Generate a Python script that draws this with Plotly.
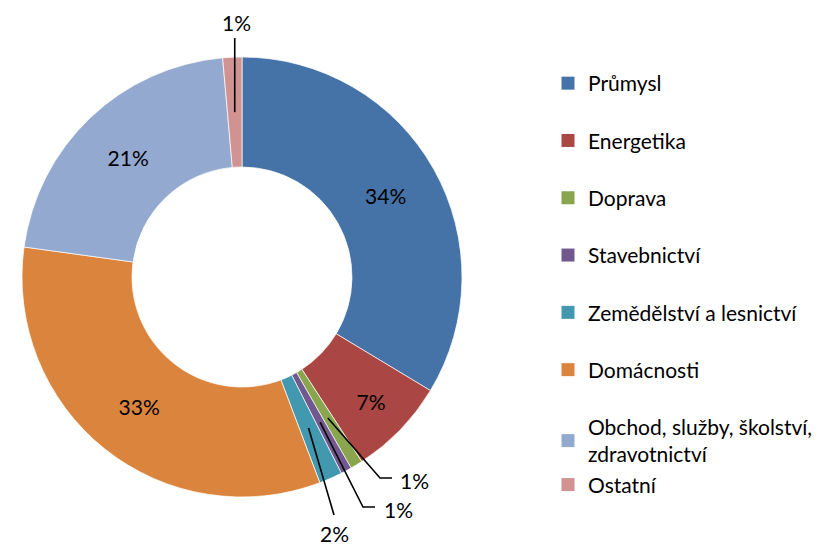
import math
import plotly.graph_objects as go

# data
sectors = ["Průmysl", "Energetika", "Doprava", "Stavebnictví",
           "Zemědělství a lesnictví", "Domácnosti",
           "Obchod, služby, školství,<br>zdravotnictví", "Ostatní"]
shares = [33.6, 7.2, 0.9, 0.8, 1.7, 32.9, 21.4, 1.4]
colors = ["#4572A7", "#AA4643", "#89A54E", "#71588F",
          "#4198AF", "#DB843D", "#93A9CF", "#D19392"]
inside_label = [True, True, False, False, False, True, True, False]

W, H = 828, 546
OFF = 8  # page body margin
CX, CY, R = 242, 277, 220
FONT = "Lato"
FS = 21


def paper(x, y):
    # page pixel -> paper coords
    return (x - OFF) / W, 1 - (y - OFF) / H


fig = go.Figure()

x0, y1 = paper(CX - R, CY - R)
x1, y0 = paper(CX + R, CY + R)
fig.add_trace(go.Pie(
    labels=sectors, values=shares, sort=False, direction="clockwise",
    rotation=0, hole=0.5, showlegend=False,
    marker=dict(colors=colors, line=dict(color="white", width=0.7)),
    texttemplate="%{percent:.0%}",
    textposition=["inside" if s else "none" for s in inside_label],
    insidetextorientation="horizontal",
    textfont=dict(family=FONT, size=FS, color="black"),
    domain=dict(x=[x0, x1], y=[y0, y1]),
    hoverinfo="label+percent",
))

# legend via dummy traces so item spacing can be controlled
groups = ["a", "b", "c", "d", "e", "f", "g", "g"]
for name, col, grp in zip(sectors, colors, groups):
    fig.add_trace(go.Scatter(
        x=[None], y=[None], mode="markers", name=name, legendgroup=grp,
        marker=dict(symbol="square", size=13, color=col),
    ))

# leader lines for small slices: (slice index, elbow px, end px, text px)
leaders = [
    (2, (380, 478), (392, 478), (414, 480)),
    (3, (363, 507), (375, 507), (398, 509)),
    (4, (334, 515), None, (334, 533)),
    (7, None, None, (236, 22)),
]
total = sum(shares)
shapes, annos = [], []
for idx, elbow, end, txt in leaders:
    mid = (sum(shares[:idx]) + shares[idx] / 2) / total * 2 * math.pi
    sx = CX + 0.75 * R * math.sin(mid)
    sy = CY - 0.75 * R * math.cos(mid)
    pts = [(sx, sy)]
    if elbow:
        pts.append(elbow)
    if end:
        pts.append(end)
    if not elbow:
        pts.append((sx, txt[1] + 16))
    path = "M " + " L ".join(f"{paper(*p)[0]},{paper(*p)[1]}" for p in pts)
    shapes.append(dict(type="path", path=path, xref="paper", yref="paper",
                       line=dict(color="black", width=1.6)))
    pct = round(shares[idx] / total * 100)
    tx, ty = paper(*txt)
    annos.append(dict(x=tx, y=ty, xref="paper", yref="paper", text=f"{pct}%",
                      xanchor="center", yanchor="middle", showarrow=False,
                      font=dict(family=FONT, size=FS, color="black")))

lx, ly = paper(548, 63)
fig.update_layout(
    width=W, height=H,
    margin=dict(l=0, r=0, t=0, b=0),
    paper_bgcolor="white", plot_bgcolor="white",
    xaxis=dict(visible=False), yaxis=dict(visible=False),
    shapes=shapes, annotations=annos,
    legend=dict(x=lx, y=ly, xanchor="left", yanchor="top",
                font=dict(family=FONT, size=FS, color="black"),
                tracegroupgap=27, itemwidth=30, traceorder="grouped"),
)

fig.write_html("out.html")
